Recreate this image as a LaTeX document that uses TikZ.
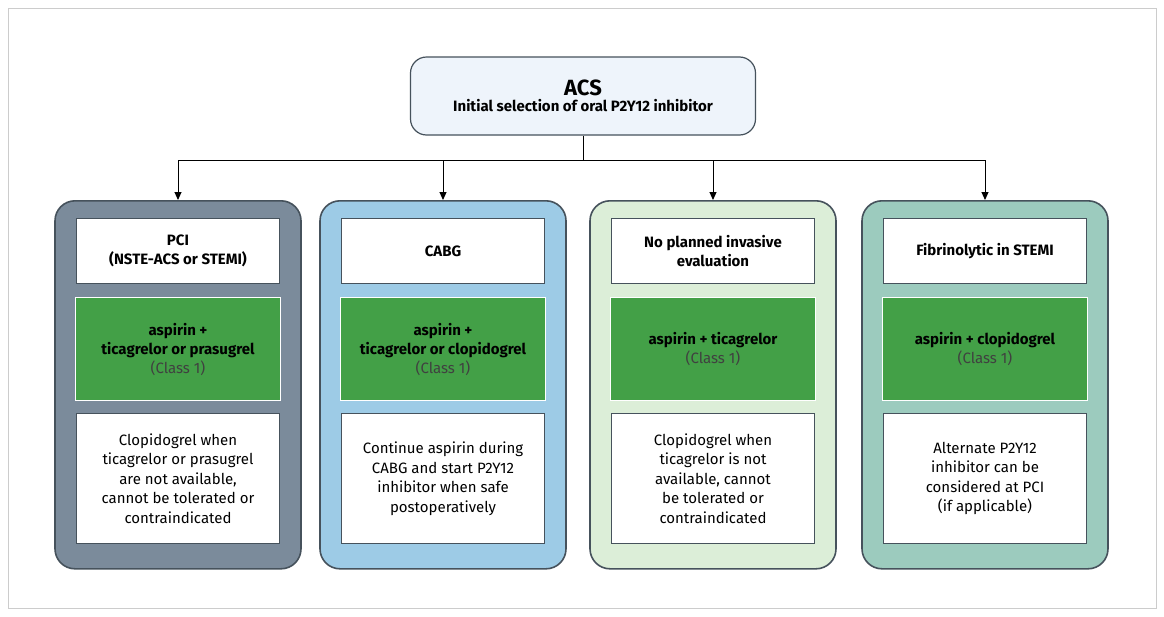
\documentclass[tikz,border=0pt]{standalone}
\usepackage{fontspec}
\setmainfont{Fira Sans}
\usetikzlibrary{arrows.meta}
\definecolor{c1}{HTML}{7B8B9B}
\definecolor{c2}{HTML}{9DCBE6}
\definecolor{c3}{HTML}{DCEED8}
\definecolor{c4}{HTML}{9CCBBE}
\definecolor{gr}{HTML}{43A047}
\definecolor{bd}{HTML}{46525C}
\definecolor{topf}{HTML}{EEF4FB}
\newcommand{\myclass}{{\mdseries\color{black!75}(Class 1)}}
\begin{document}
\begin{tikzpicture}[x=1pt,y=-1pt,
 col/.style={draw=bd,line width=1.6pt,rounded corners=20pt,minimum width=246pt,minimum height=368pt,anchor=north},
 hd/.style={draw=bd,fill=white,line width=1pt,minimum width=203pt,minimum height=65pt,align=center,font=\fontsize{15}{19}\selectfont\bfseries,anchor=north},
 gb/.style={draw=white,fill=gr,line width=1pt,minimum width=205pt,minimum height=103pt,align=center,font=\fontsize{15}{19}\selectfont\bfseries,anchor=north},
 bt/.style={draw=bd,fill=white,line width=1pt,minimum width=203pt,minimum height=130pt,align=center,font=\fontsize{15}{19.5}\selectfont,anchor=north},
 arr/.style={-{Triangle[width=7pt,length=8pt]},line width=1pt}]
\useasboundingbox (0,0) rectangle (1164,616);
\draw[draw=black!20,line width=1pt,fill=white] (8,8) rectangle (1156,608);
\node[draw=bd,fill=topf,line width=1.2pt,rounded corners=16pt,minimum width=345pt,minimum height=78pt,align=center] (top) at (583,96)
 {{\fontsize{22}{26}\selectfont\bfseries ACS}\\[3pt]{\fontsize{15}{18}\selectfont\bfseries Initial selection of oral P2Y12 inhibitor}};
\coordinate (j) at (583,160);
\foreach \i/\x/\c in {1/178/c1,2/443/c2,3/713/c3,4/985/c4}{
 \node[col,fill=\c] (col\i) at (\x,200) {};
 \coordinate (h\i) at (\x,160);
}
\node[hd] (h1t) at (178,218) {PCI\\(NSTE-ACS or STEMI)};
\node[hd] (h2t) at (443,218) {CABG};
\node[hd] (h3t) at (713,218) {No planned invasive\\evaluation};
\node[hd] (h4t) at (985,218) {Fibrinolytic in STEMI};
\node[gb] (g1) at (178,297) {aspirin +\\ticagrelor or prasugrel\\\myclass};
\node[gb] (g2) at (443,297) {aspirin +\\ticagrelor or clopidogrel\\\myclass};
\node[gb] (g3) at (713,297) {aspirin + ticagrelor\\\myclass};
\node[gb] (g4) at (985,297) {aspirin + clopidogrel\\\myclass};
\node[bt] (b1) at (178,413) {Clopidogrel when\\ticagrelor or prasugrel\\are not available,\\cannot be tolerated or\\contraindicated};
\node[bt] (b2) at (443,413) {Continue aspirin during\\CABG and start P2Y12\\inhibitor when safe\\postoperatively};
\node[bt] (b3) at (713,413) {Clopidogrel when\\ticagrelor is not\\available, cannot\\be tolerated or\\contraindicated};
\node[bt] (b4) at (985,413) {Alternate P2Y12\\inhibitor can be\\considered at PCI\\(if applicable)};
\draw[line width=1pt] (top.south) -- (j);
\draw[line width=1pt] (h1) -- (h4);
\foreach \i in {1,...,4}{\draw[arr] (h\i) -- (col\i.north);}
\end{tikzpicture}
\end{document}
